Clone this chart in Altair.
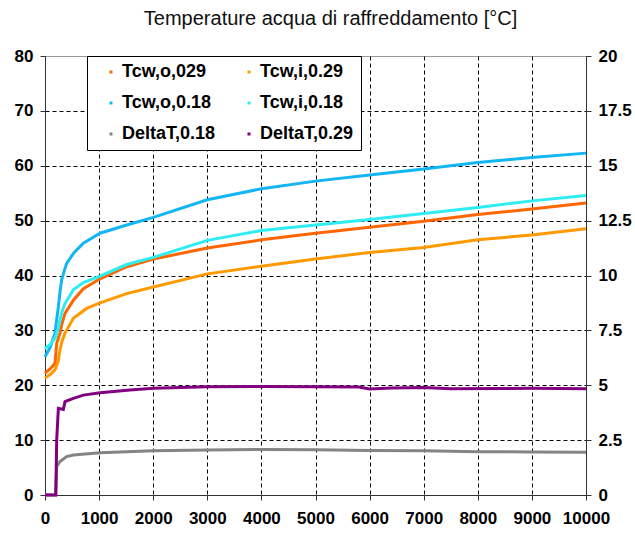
import altair as alt
import pandas as pd

# ---- data ----
# legend fills column by column, so the order below gives the reference's row layout
series_names = ["Tcw,o,029", "Tcw,o,0.18", "DeltaT,0.18", "Tcw,i,0.29", "Tcw,i,0.18", "DeltaT,0.29"]
series_colors = ["#FF6600", "#12B6F2", "#848484", "#FF9900", "#2DECF2", "#80007F"]

t_o029 = [0, 100, 185, 216, 247, 277, 308, 370, 524, 709, 1017, 1510, 2003, 3000, 4000, 5000, 6000, 7000, 8000, 9000, 10000]
v_o029 = [22.2, 23.0, 24.0, 27.6, 28.6, 29.5, 31.0, 33.1, 35.5, 37.6, 39.4, 41.6, 43.0, 45.0, 46.5, 47.7, 48.8, 49.9, 51.1, 52.1, 53.2]

t_i029 = [0, 100, 185, 247, 277, 308, 370, 524, 770, 1017, 1510, 2003, 3000, 4000, 5000, 6000, 7000, 8000, 9000, 10000]
v_i029 = [21.3, 22.0, 22.8, 24.5, 26.4, 27.8, 29.5, 32.2, 34.0, 35.0, 36.7, 37.9, 40.3, 41.7, 43.0, 44.2, 45.1, 46.5, 47.4, 48.5]

t_o018 = [0, 100, 185, 216, 247, 277, 308, 370, 400, 524, 709, 1017, 1510, 2003, 3000, 4000, 5000, 6000, 7000, 8000, 9000, 10000]
v_o018 = [25.2, 27.0, 29.5, 32.0, 34.3, 37.0, 39.2, 41.3, 42.2, 44.0, 45.9, 47.7, 49.2, 50.6, 53.8, 55.8, 57.2, 58.3, 59.4, 60.6, 61.5, 62.3]

t_i018 = [0, 100, 185, 247, 277, 308, 370, 524, 709, 1017, 1510, 2003, 3000, 4000, 5000, 6000, 7000, 8000, 9000, 10000]
v_i018 = [26.7, 27.5, 28.6, 30.5, 31.9, 33.2, 34.9, 37.4, 38.7, 39.9, 42.0, 43.3, 46.4, 48.2, 49.2, 50.2, 51.3, 52.4, 53.6, 54.6]

# DeltaT,0.18 read on the left axis
t_d018 = [0, 195, 216, 277, 400, 524, 1017, 2003, 3000, 4000, 5000, 6000, 7000, 8000, 9000, 10000]
v_d018 = [0.0, 0.0, 5.2, 6.1, 7.0, 7.3, 7.7, 8.05, 8.2, 8.3, 8.25, 8.1, 8.05, 7.9, 7.85, 7.8]

# DeltaT,0.29 read on the right axis
t_d029 = [0, 200, 216, 247, 339, 370, 524, 709, 1017, 1571, 2003, 3000, 4000, 5000, 5800, 6000, 6400, 7000, 7500, 8500, 9000, 10000]
v_d029 = [0.0, 0.0, 2.5, 3.95, 3.9, 4.25, 4.4, 4.55, 4.66, 4.78, 4.86, 4.93, 4.94, 4.93, 4.92, 4.83, 4.88, 4.9, 4.84, 4.85, 4.86, 4.84]

x_ticks = list(range(0, 10001, 1000))
y_left_ticks = list(range(0, 81, 10))
y_right_ticks = [0, 2.5, 5, 7.5, 10, 12.5, 15, 17.5, 20]

left_rows = []
for name, ts, vs in [
    ("Tcw,o,029", t_o029, v_o029),
    ("Tcw,i,0.29", t_i029, v_i029),
    ("Tcw,o,0.18", t_o018, v_o018),
    ("Tcw,i,0.18", t_i018, v_i018),
    ("DeltaT,0.18", t_d018, v_d018),
]:
    for t, v in zip(ts, vs):
        left_rows.append({"t": t, "v": v, "serie": name})
left_df = pd.DataFrame(left_rows)
right_df = pd.DataFrame({"t": t_d029, "v": v_d029, "serie": "DeltaT,0.29"})

FONT = "Liberation Sans"

color = alt.Color(
    "serie:N",
    scale=alt.Scale(domain=series_names, range=series_colors),
    legend=alt.Legend(
        title=None,
        orient="none",
        legendX=42,
        legendY=0,
        columns=2,
        columnPadding=16,
        rowPadding=13,
        padding=7,
        symbolOffset=8,
        symbolType="square",
        symbolSize=1,
        symbolStrokeWidth=2,
        labelFont=FONT,
        labelFontSize=18,
        labelFontWeight="bold",
        labelColor="#000000",
        labelOffset=2,
        fillColor="white",
        strokeColor="black",
    ),
)

x_enc = alt.X(
    "t:Q",
    scale=alt.Scale(domain=[0, 10000], nice=False),
    axis=alt.Axis(
        title=None,
        values=x_ticks,
        format="d",
        labelOverlap=False,
        labelFlush=False,
        labelFont=FONT,
        labelFontSize=17,
        labelFontWeight="bold",
        labelColor="#000000",
        labelPadding=10,
        tickSize=5,
        tickColor="#333333",
        domainColor="#333333",
        grid=True,
        gridColor="black",
        gridDash=[4, 3],
        gridOpacity=1,
    ),
)

left_layer = alt.Chart(left_df).mark_line(strokeWidth=3).encode(
    x=x_enc,
    y=alt.Y(
        "v:Q",
        scale=alt.Scale(domain=[0, 80], nice=False),
        axis=alt.Axis(
            title=None,
            orient="left",
            values=y_left_ticks,
            labelOverlap=False,
            labelFlush=False,
            labelFont=FONT,
            labelFontSize=17,
            labelFontWeight="bold",
            labelColor="#000000",
            labelPadding=7,
            tickSize=5,
            tickColor="#333333",
            domainColor="#333333",
            grid=True,
            gridColor="black",
            gridDash=[4, 3],
            gridOpacity={"condition": {"test": "datum.value >= 80", "value": 0}, "value": 1},
        ),
    ),
    color=color,
    order=alt.Order("t:Q"),
)

right_layer = alt.Chart(right_df).mark_line(strokeWidth=3).encode(
    x=alt.X("t:Q"),
    y=alt.Y(
        "v:Q",
        scale=alt.Scale(domain=[0, 20], nice=False),
        axis=alt.Axis(
            title=None,
            orient="right",
            values=y_right_ticks,
            format=".1~f",
            labelOverlap=False,
            labelFlush=False,
            labelFont=FONT,
            labelFontSize=17,
            labelFontWeight="bold",
            labelColor="#000000",
            labelPadding=7,
            tickSize=5,
            tickColor="#333333",
            domainColor="#333333",
            grid=False,
        ),
    ),
    color=color,
    order=alt.Order("t:Q"),
)

chart = (
    alt.layer(left_layer, right_layer)
    .resolve_scale(y="independent")
    .properties(
        width=541,
        height=439,
        autosize=alt.AutoSizeParams(type="none"),
        padding={"left": 45, "top": 56, "right": 49, "bottom": 38},
        title=alt.TitleParams(
            text="Temperature acqua di raffreddamento [°C]",
            font=FONT,
            fontSize=20,
            fontWeight="normal",
            color="#111111",
            anchor="middle",
            dx=15,
            offset=18,
        ),
        background="white",
    )
    .configure_view(stroke="#999999", strokeWidth=1)
)

chart.save("out.html", embed_options={"renderer": "svg", "actions": False})
